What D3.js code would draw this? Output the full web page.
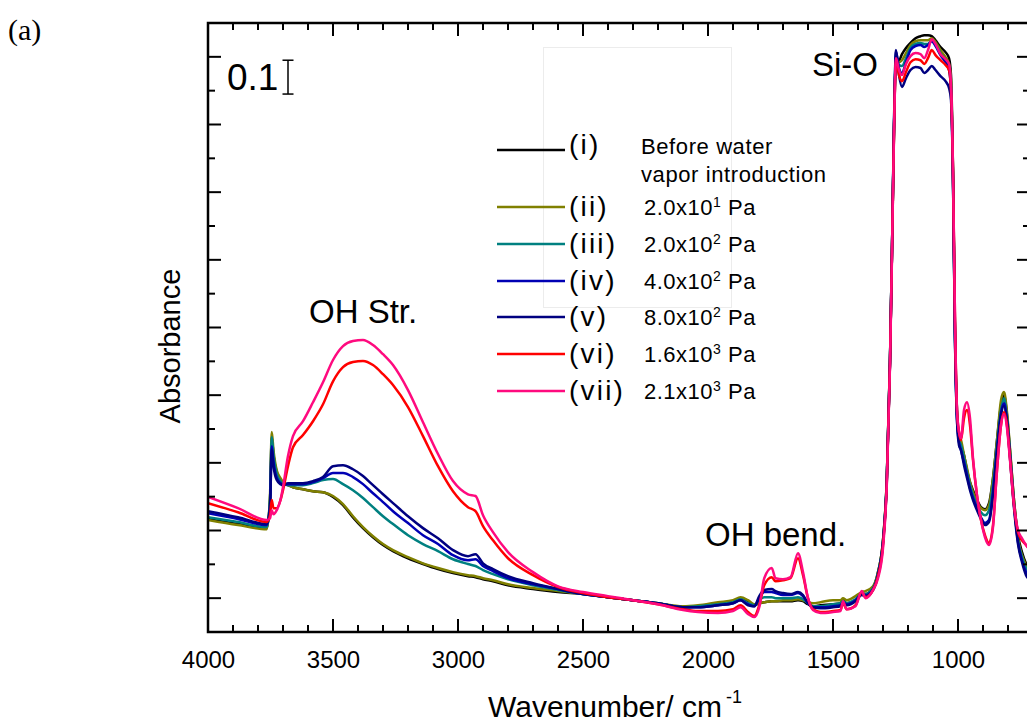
<!DOCTYPE html>
<html>
<head>
	<meta charset="utf-8">
	<title>IR absorbance spectra</title>
	<script src="https://d3js.org/d3.v7.min.js"></script>
	<style>
		html, body {
			margin: 0;
			background: #fff;
		}
		text {
			font-family: "Liberation Sans", Arial, sans-serif;
			fill: #000;
		}
	</style>
</head>
<body>
	<svg id="svg"></svg>
	<script>
		// wavenumber grid (cm-1), shared by all spectra
		const wavenumbers = [4000, 3880, 3765, 3752, 3745, 3738, 3725, 3710, 3700, 3680, 3660, 3620, 3580, 3540, 3500, 3460, 3420, 3380, 3340, 3300, 3260, 3200, 3140, 3080, 3020, 2960, 2930, 2900, 2860, 2800, 2700, 2600, 2500, 2400, 2300, 2200, 2100, 2040, 1960, 1900, 1870, 1840, 1815, 1795, 1775, 1745, 1730, 1700, 1670, 1640, 1620, 1600, 1580, 1550, 1500, 1470, 1460, 1445, 1410, 1385, 1370, 1340, 1320, 1300, 1285, 1272, 1264, 1256, 1248, 1236, 1224, 1208, 1190, 1170, 1150, 1135, 1120, 1105, 1090, 1070, 1050, 1036, 1028, 1020, 1012, 1004, 996, 988, 976, 964, 952, 940, 924, 908, 892, 876, 860, 844, 828, 816, 804, 792, 776, 760, 744, 728, 712];

		// absorbance
		const absI = [0.234, 0.219, 0.207, 0.290, 0.476, 0.423, 0.372, 0.349, 0.340, 0.334, 0.328, 0.322, 0.316, 0.313, 0.299, 0.275, 0.239, 0.207, 0.180, 0.157, 0.139, 0.118, 0.101, 0.086, 0.074, 0.065, 0.062, 0.056, 0.050, 0.038, 0.027, 0.018, 0.012, 0.003, -0.006, -0.015, -0.027, -0.024, -0.015, -0.009, 0.000, -0.009, -0.021, -0.015, -0.012, -0.009, -0.009, -0.009, -0.009, -0.006, -0.009, -0.018, -0.024, -0.021, -0.018, -0.015, -0.006, -0.015, -0.006, 0.012, 0.012, 0.030, 0.077, 0.171, 0.349, 0.704, 1.029, 1.383, 1.596, 1.590, 1.608, 1.626, 1.641, 1.655, 1.661, 1.664, 1.664, 1.661, 1.649, 1.629, 1.614, 1.596, 1.546, 1.265, 0.792, 0.556, 0.476, 0.452, 0.423, 0.378, 0.343, 0.319, 0.290, 0.269, 0.263, 0.281, 0.355, 0.467, 0.571, 0.600, 0.541, 0.437, 0.290, 0.186, 0.136, 0.103, 0.089];
		const absII = [0.231, 0.216, 0.204, 0.304, 0.491, 0.437, 0.378, 0.355, 0.343, 0.334, 0.328, 0.322, 0.316, 0.313, 0.302, 0.278, 0.242, 0.210, 0.183, 0.160, 0.142, 0.121, 0.103, 0.089, 0.077, 0.068, 0.065, 0.059, 0.053, 0.041, 0.030, 0.021, 0.012, 0.003, -0.006, -0.015, -0.024, -0.021, -0.012, -0.006, 0.003, -0.006, -0.018, -0.015, -0.012, -0.009, -0.009, -0.006, -0.006, -0.003, -0.006, -0.012, -0.015, -0.012, -0.006, -0.006, 0.000, -0.006, 0.006, 0.018, 0.021, 0.035, 0.077, 0.171, 0.349, 0.704, 1.029, 1.383, 1.596, 1.584, 1.590, 1.611, 1.635, 1.646, 1.649, 1.649, 1.649, 1.655, 1.644, 1.620, 1.599, 1.579, 1.531, 1.250, 0.777, 0.541, 0.476, 0.467, 0.423, 0.384, 0.343, 0.313, 0.284, 0.266, 0.260, 0.275, 0.355, 0.467, 0.585, 0.609, 0.550, 0.443, 0.290, 0.177, 0.127, 0.098, 0.083];
		const absIII = [0.239, 0.225, 0.210, 0.290, 0.476, 0.423, 0.367, 0.346, 0.337, 0.334, 0.334, 0.334, 0.340, 0.349, 0.352, 0.337, 0.319, 0.296, 0.269, 0.242, 0.219, 0.186, 0.160, 0.139, 0.115, 0.101, 0.095, 0.083, 0.071, 0.056, 0.038, 0.024, 0.012, 0.003, -0.006, -0.015, -0.027, -0.024, -0.018, -0.012, -0.003, -0.015, -0.021, -0.006, 0.003, 0.003, 0.000, 0.000, 0.000, 0.003, -0.003, -0.015, -0.024, -0.024, -0.018, -0.015, -0.009, -0.015, -0.003, 0.012, 0.012, 0.030, 0.074, 0.168, 0.346, 0.704, 1.029, 1.389, 1.605, 1.576, 1.573, 1.596, 1.626, 1.638, 1.641, 1.638, 1.638, 1.649, 1.638, 1.611, 1.590, 1.570, 1.516, 1.250, 0.777, 0.541, 0.467, 0.452, 0.414, 0.372, 0.334, 0.304, 0.275, 0.254, 0.245, 0.260, 0.334, 0.452, 0.556, 0.591, 0.532, 0.432, 0.281, 0.171, 0.121, 0.089, 0.074];
		const absIV = [0.251, 0.234, 0.216, 0.275, 0.449, 0.402, 0.355, 0.340, 0.334, 0.337, 0.337, 0.337, 0.343, 0.355, 0.370, 0.370, 0.358, 0.337, 0.310, 0.284, 0.257, 0.222, 0.186, 0.160, 0.127, 0.112, 0.115, 0.095, 0.080, 0.059, 0.041, 0.027, 0.012, 0.003, -0.006, -0.015, -0.027, -0.027, -0.021, -0.015, -0.006, -0.018, -0.024, 0.000, 0.018, 0.018, 0.015, 0.009, 0.009, 0.015, 0.006, -0.015, -0.027, -0.027, -0.024, -0.021, -0.012, -0.018, -0.006, 0.012, 0.009, 0.027, 0.071, 0.166, 0.343, 0.698, 1.029, 1.398, 1.614, 1.567, 1.552, 1.584, 1.620, 1.632, 1.635, 1.629, 1.635, 1.646, 1.632, 1.605, 1.584, 1.561, 1.502, 1.236, 0.763, 0.526, 0.461, 0.437, 0.402, 0.364, 0.325, 0.296, 0.266, 0.239, 0.222, 0.231, 0.313, 0.437, 0.547, 0.576, 0.526, 0.423, 0.275, 0.166, 0.112, 0.077, 0.062];
		const absV = [0.257, 0.239, 0.219, 0.266, 0.440, 0.390, 0.349, 0.337, 0.334, 0.340, 0.340, 0.340, 0.346, 0.358, 0.390, 0.393, 0.381, 0.361, 0.334, 0.307, 0.281, 0.242, 0.207, 0.177, 0.142, 0.124, 0.130, 0.103, 0.086, 0.065, 0.044, 0.027, 0.012, 0.003, -0.006, -0.015, -0.027, -0.027, -0.021, -0.015, -0.006, -0.021, -0.024, 0.006, 0.024, 0.027, 0.021, 0.015, 0.012, 0.018, 0.009, -0.015, -0.027, -0.030, -0.027, -0.024, -0.015, -0.021, -0.009, 0.009, 0.006, 0.024, 0.068, 0.163, 0.340, 0.698, 1.029, 1.407, 1.620, 1.546, 1.511, 1.537, 1.561, 1.570, 1.567, 1.552, 1.561, 1.573, 1.561, 1.543, 1.528, 1.508, 1.472, 1.236, 0.763, 0.526, 0.452, 0.437, 0.393, 0.355, 0.319, 0.290, 0.260, 0.234, 0.216, 0.225, 0.304, 0.432, 0.541, 0.568, 0.520, 0.414, 0.266, 0.160, 0.106, 0.068, 0.053];
		const absVI = [0.281, 0.254, 0.225, 0.245, 0.290, 0.266, 0.266, 0.290, 0.319, 0.390, 0.446, 0.482, 0.523, 0.573, 0.641, 0.683, 0.698, 0.701, 0.689, 0.662, 0.630, 0.565, 0.479, 0.390, 0.316, 0.269, 0.257, 0.213, 0.171, 0.118, 0.068, 0.033, 0.015, 0.003, -0.006, -0.018, -0.033, -0.038, -0.038, -0.033, -0.021, -0.041, -0.053, -0.021, 0.038, 0.062, 0.050, 0.053, 0.059, 0.118, 0.068, 0.000, -0.033, -0.041, -0.038, -0.035, -0.015, -0.033, -0.021, 0.018, 0.003, 0.024, 0.065, 0.157, 0.337, 0.695, 1.023, 1.377, 1.590, 1.546, 1.528, 1.555, 1.584, 1.593, 1.590, 1.579, 1.596, 1.620, 1.605, 1.590, 1.576, 1.561, 1.502, 1.265, 0.822, 0.556, 0.491, 0.467, 0.532, 0.556, 0.511, 0.408, 0.304, 0.231, 0.186, 0.163, 0.216, 0.378, 0.511, 0.550, 0.511, 0.414, 0.275, 0.195, 0.171, 0.157, 0.142];
		const absVII = [0.299, 0.266, 0.231, 0.236, 0.260, 0.248, 0.260, 0.290, 0.328, 0.420, 0.479, 0.523, 0.579, 0.638, 0.704, 0.745, 0.760, 0.763, 0.748, 0.721, 0.689, 0.615, 0.520, 0.426, 0.346, 0.307, 0.302, 0.245, 0.195, 0.136, 0.077, 0.035, 0.018, 0.006, -0.006, -0.018, -0.035, -0.041, -0.044, -0.038, -0.027, -0.047, -0.056, -0.027, 0.059, 0.089, 0.059, 0.056, 0.062, 0.133, 0.077, 0.000, -0.035, -0.044, -0.041, -0.038, -0.009, -0.033, -0.024, 0.021, 0.000, 0.024, 0.059, 0.148, 0.331, 0.689, 1.017, 1.372, 1.596, 1.561, 1.546, 1.579, 1.602, 1.611, 1.608, 1.596, 1.620, 1.652, 1.638, 1.608, 1.593, 1.579, 1.516, 1.265, 0.822, 0.556, 0.491, 0.473, 0.556, 0.579, 0.532, 0.414, 0.304, 0.231, 0.180, 0.157, 0.210, 0.378, 0.511, 0.544, 0.503, 0.408, 0.275, 0.201, 0.177, 0.157, 0.142];

		const seriesValues = [absI, absII, absIII, absIV, absV, absVI, absVII];
		const romanLabels = ["(i)", "(ii)", "(iii)", "(iv)", "(v)", "(vi)", "(vii)"];
		const pressureMantissa = ["2.0", "2.0", "4.0", "8.0", "1.6", "2.1"];
		const pressureExponent = ["1", "2", "2", "2", "3", "3"];
		const colors = ["#000000", "#808000", "#008080", "#0000b4", "#000080", "#ff0000", "#ff0a7e"];

		const xMajor = [4000, 3500, 3000, 2500, 2000, 1500, 1000];

		const plot = {left: 208, right: 1030, top: 23, bottom: 632};

		const svg = d3.select("#svg")
		.attr("width", 1027)
		.attr("height", 722);

		const scaleX = d3.scaleLinear()
		.domain([4000, 712])
		.range([plot.left, plot.right]);

		const scaleY = d3.scaleLinear()
		.domain([-0.1, 1.7])
		.range([plot.bottom, plot.top]);

		svg.append("clipPath")
		.attr("id", "clip")
		.append("rect")
		.attr("x", plot.left)
		.attr("y", plot.top)
		.attr("width", plot.right - plot.left)
		.attr("height", plot.bottom - plot.top);

		// faint box behind the legend
		svg.append("rect")
		.attr("x", 543.5)
		.attr("y", 47.5)
		.attr("width", 188)
		.attr("height", 260)
		.attr("fill", "none")
		.attr("stroke", "#ececec")
		.attr("stroke-width", 1);

		const line = d3.line()
		.curve(d3.curveMonotoneX)
		.x((d, i) => scaleX(wavenumbers[i]))
		.y(d => scaleY(d));

		svg.append("g")
		.attr("clip-path", "url(#clip)")
		.selectAll("path")
		.data(seriesValues)
		.enter()
		.append("path")
		.attr("fill", "none")
		.attr("stroke", (d, i) => colors[i])
		.attr("stroke-width", 2.5)
		.attr("stroke-linejoin", "round")
		.attr("d", d => line(d));

		// tick marks, all pointing inwards
		const xMinor = d3.range(800, 4000, 100).filter(v => !xMajor.includes(v));
		const yMajor = d3.range(0, 1.61, 0.2);
		const yMinor = d3.range(0.1, 1.6, 0.2);

		const ticks = svg.append("g")
		.attr("stroke", "#000")
		.attr("stroke-width", 2);

		const xTicks = xMajor.map(v => [v, 13]).concat(xMinor.map(v => [v, 7]));
		ticks.selectAll("line.xb")
		.data(xTicks)
		.enter()
		.append("line")
		.attr("class", "xb")
		.attr("x1", d => scaleX(d[0]))
		.attr("x2", d => scaleX(d[0]))
		.attr("y1", plot.bottom)
		.attr("y2", d => plot.bottom - d[1]);

		ticks.selectAll("line.xt")
		.data(xTicks)
		.enter()
		.append("line")
		.attr("class", "xt")
		.attr("x1", d => scaleX(d[0]))
		.attr("x2", d => scaleX(d[0]))
		.attr("y1", plot.top)
		.attr("y2", d => plot.top + d[1]);

		const yTicks = yMajor.map(v => [v, 13]).concat(yMinor.map(v => [v, 7]));
		ticks.selectAll("line.yl")
		.data(yTicks)
		.enter()
		.append("line")
		.attr("class", "yl")
		.attr("x1", plot.left)
		.attr("x2", d => plot.left + d[1])
		.attr("y1", d => scaleY(d[0]))
		.attr("y2", d => scaleY(d[0]));

		ticks.selectAll("line.yr")
		.data(yTicks)
		.enter()
		.append("line")
		.attr("class", "yr")
		.attr("x1", plot.right)
		.attr("x2", d => plot.right - d[1])
		.attr("y1", d => scaleY(d[0]))
		.attr("y2", d => scaleY(d[0]));

		// tick labels from the axis generator
		svg.append("g")
		.attr("transform", `translate(0, ${plot.bottom})`)
		.call(d3.axisBottom(scaleX).tickValues(xMajor).tickSize(0).tickPadding(19).tickFormat(d3.format("d")))
		.call(g => g.select(".domain").remove())
		.call(g => g.selectAll("text").attr("font-size", 24).attr("font-family", "Liberation Sans, Arial, sans-serif"));

		svg.append("rect")
		.attr("x", plot.left)
		.attr("y", plot.top)
		.attr("width", plot.right - plot.left)
		.attr("height", plot.bottom - plot.top)
		.attr("fill", "none")
		.attr("stroke", "#000")
		.attr("stroke-width", 2.5);

		// axis titles
		const xTitle = svg.append("text")
		.attr("x", 488)
		.attr("y", 717)
		.attr("font-size", 30)
		.text("Wavenumber/ cm");
		xTitle.append("tspan")
		.attr("font-size", 18)
		.attr("dx", 4)
		.attr("dy", -14)
		.text("-1");

		svg.append("text")
		.attr("transform", "translate(180, 346) rotate(-90)")
		.attr("text-anchor", "middle")
		.attr("font-size", 29)
		.text("Absorbance");

		svg.append("text")
		.attr("x", 8)
		.attr("y", 40)
		.attr("font-size", 30)
		.style("font-family", "'Liberation Serif', 'Times New Roman', serif")
		.text("(a)");

		// scale bar 0.1
		svg.append("text")
		.attr("x", 227)
		.attr("y", 90)
		.attr("font-size", 37)
		.text("0.1");

		const barX = 288;
		const barTop = scaleY(1.59);
		const barBottom = scaleY(1.49);
		const bar = svg.append("g")
		.attr("stroke", "#000")
		.attr("stroke-width", 1.5);
		bar.append("line").attr("x1", barX).attr("x2", barX).attr("y1", barTop).attr("y2", barBottom);
		bar.append("line").attr("x1", barX - 5.5).attr("x2", barX + 5.5).attr("y1", barTop).attr("y2", barTop);
		bar.append("line").attr("x1", barX - 5.5).attr("x2", barX + 5.5).attr("y1", barBottom).attr("y2", barBottom);

		// band annotations
		svg.append("text").attr("x", 309).attr("y", 323).attr("font-size", 33).text("OH Str.");
		svg.append("text").attr("x", 812).attr("y", 76).attr("font-size", 33).text("Si-O");
		svg.append("text").attr("x", 705).attr("y", 546).attr("font-size", 33).text("OH bend.");

		// legend
		const rowY = [150, 207, 244, 281, 317, 354, 391];
		const legend = svg.append("g");

		legend.selectAll("line")
		.data(colors)
		.enter()
		.append("line")
		.attr("x1", 497)
		.attr("x2", 565)
		.attr("y1", (d, i) => rowY[i])
		.attr("y2", (d, i) => rowY[i])
		.attr("stroke", d => d)
		.attr("stroke-width", 2.5);

		legend.selectAll("text.roman")
		.data(romanLabels)
		.enter()
		.append("text")
		.attr("class", "roman")
		.attr("x", 569)
		.attr("y", (d, i) => rowY[i] + (i === 0 ? 4 : 9))
		.attr("font-size", 28)
		.attr("letter-spacing", 2.2)
		.text(d => d);

		legend.append("text")
		.attr("x", 641)
		.attr("y", 154)
		.attr("font-size", 22)
		.attr("letter-spacing", 0.6)
		.text("Before water");
		legend.append("text")
		.attr("x", 641)
		.attr("y", 182)
		.attr("font-size", 22)
		.attr("letter-spacing", 0.6)
		.text("vapor introduction");

		pressureMantissa.forEach((m, i) => {
			const t = legend.append("text")
			.attr("x", 644)
			.attr("y", rowY[i + 1] + 8)
			.attr("font-size", 22)
			.attr("letter-spacing", 0.5)
			.text(m + "x10");
			t.append("tspan")
			.attr("font-size", 14)
			.attr("dy", -8)
			.text(pressureExponent[i]);
			t.append("tspan")
			.attr("dy", 8)
			.text(" Pa");
		});
	</script>
</body>
</html>
